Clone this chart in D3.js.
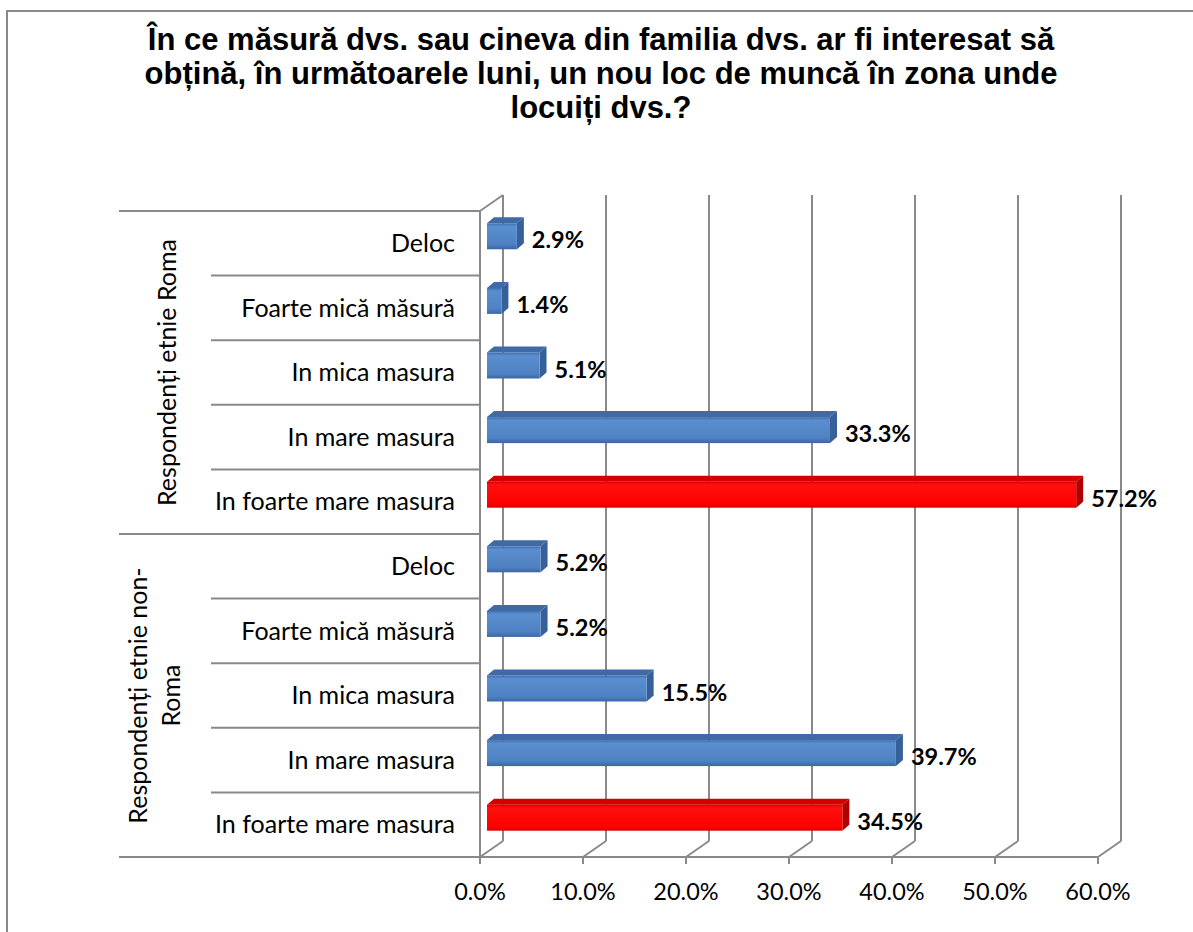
<!DOCTYPE html>
<html>
<head>
<meta charset="utf-8">
<script src="https://cdn.jsdelivr.net/npm/d3@7"></script>
<style>
  body { margin: 0; background: #fff; }
  svg { display: block; }
</style>
</head>
<body>
<div class="chartBoard"></div>
<script>
// chart data
const titleLines = [
    "În ce măsură dvs. sau cineva din familia dvs. ar fi interesat să",
    "obțină, în următoarele luni, un nou loc de muncă în zona unde",
    "locuiți dvs.?"
];
const groups = ["Respondenți etnie Roma", "Respondenți etnie non-Roma"];
const groupLabelLines = [["Respondenți etnie Roma"], ["Respondenți etnie non-", "Roma"]];
const answers = ["Deloc", "Foarte mică măsură", "In mica masura", "In mare masura", "In foarte mare masura"];
const romaValues = [2.9, 1.4, 5.1, 33.3, 57.2];
const nonRomaValues = [5.2, 5.2, 15.5, 39.7, 34.5];
const xTicks = [0, 10, 20, 30, 40, 50, 60];
const highlighted = "In foarte mare masura";

const W = 1193, H = 932;
const pLeft = 480, pRight = 1098, pTop = 211, pBottom = 857;
const depthX = 23, depthY = -16;     // back wall offset
const barDX = 7, barDY = -6;         // bar depth
const gridColor = "#898989";

// rows: one per group/answer pair
const rows = [];
groups.forEach((g, gi) => {
    const vals = gi === 0 ? romaValues : nonRomaValues;
    answers.forEach((a, ai) => rows.push({ group: g, gi: gi, answer: a, value: vals[ai], key: gi + "|" + a }));
});

const svg = d3.select(".chartBoard")
    .append("svg")
    .attr("width", W)
    .attr("height", H);

svg.append("rect").attr("width", W).attr("height", H).attr("fill", "#fff");
svg.append("rect")
    .attr("x", 7).attr("y", 11)
    .attr("width", W + 20).attr("height", H + 20)
    .attr("fill", "none")
    .attr("stroke", gridColor)
    .attr("stroke-width", 2);

// title
svg.append("text")
    .attr("text-anchor", "middle")
    .style("font-family", "'Liberation Sans', Arial, sans-serif")
    .style("font-weight", "bold")
    .style("font-size", "31px")
    .selectAll("tspan")
    .data(titleLines)
    .enter()
    .append("tspan")
    .attr("x", 601)
    .attr("y", (d, i) => 50 + i * 34)
    .text(d => d);

const xScale = d3.scaleLinear().domain([0, 60]).range([pLeft, pRight]);
const yScale = d3.scaleBand().domain(rows.map(r => r.key)).range([pTop, pBottom]);
const bandH = yScale.bandwidth();

// gradients
const defs = svg.append("defs");
function grad(id, stops) {
    const g = defs.append("linearGradient").attr("id", id)
        .attr("x1", 0).attr("y1", 0).attr("x2", 0).attr("y2", 1);
    stops.forEach(s => g.append("stop").attr("offset", s[0]).attr("stop-color", s[1]));
}
grad("blueFront", [[0, "#3e6cab"], [0.12, "#5a8ed0"], [0.8, "#4f82c2"], [1, "#3b67a3"]]);
grad("redFront", [[0, "#e00000"], [0.12, "#ff1010"], [0.85, "#ff0000"], [1, "#d80000"]]);

// back wall gridlines
const grid = svg.append("g").attr("stroke", gridColor).attr("stroke-width", 2).attr("fill", "none");
xTicks.forEach(t => {
    const x = xScale(t);
    grid.append("line")
        .attr("x1", x + depthX).attr("x2", x + depthX)
        .attr("y1", pTop + depthY).attr("y2", pBottom + depthY);
    grid.append("line")
        .attr("x1", x).attr("y1", pBottom)
        .attr("x2", x + depthX).attr("y2", pBottom + depthY);
    grid.append("line")
        .attr("x1", x).attr("x2", x)
        .attr("y1", pBottom).attr("y2", pBottom + 7);
});
// left wall
grid.append("line").attr("x1", pLeft).attr("x2", pLeft).attr("y1", pTop).attr("y2", pBottom);
grid.append("line").attr("x1", pLeft).attr("y1", pTop).attr("x2", pLeft + depthX).attr("y2", pTop + depthY);
// floor front edge
grid.append("line").attr("x1", pLeft).attr("x2", pRight).attr("y1", pBottom).attr("y2", pBottom);

// category boundary lines
const boundaries = d3.range(rows.length + 1).map(i => pTop + i * bandH);
boundaries.forEach((y, i) => {
    const groupEdge = i % answers.length === 0;
    grid.append("line")
        .attr("x1", groupEdge ? 119 : 211).attr("x2", pLeft)
        .attr("y1", y).attr("y2", y);
});

// bars
const bars = svg.append("g");
rows.forEach(r => {
    const isRed = r.answer === highlighted;
    const x0 = pLeft + barDX;
    const x1 = x0 + (xScale(r.value) - xScale(0));
    const cy = yScale(r.key) + bandH / 2;
    const y0 = cy - 20, y1 = cy + 6;
    // top face
    bars.append("polygon")
        .attr("points", [[x0, y0], [x0 + barDX, y0 + barDY], [x1 + barDX, y0 + barDY], [x1, y0]].join(" "))
        .attr("fill", isRed ? "#d40000" : "#3f6aa6");
    // right face
    bars.append("polygon")
        .attr("points", [[x1, y0], [x1 + barDX, y0 + barDY], [x1 + barDX, y1 + barDY], [x1, y1]].join(" "))
        .attr("fill", isRed ? "#b00000" : "#35609a");
    // front face
    bars.append("rect")
        .attr("x", x0).attr("y", y0)
        .attr("width", x1 - x0).attr("height", y1 - y0)
        .attr("fill", isRed ? "url(#redFront)" : "url(#blueFront)");
    // value label
    bars.append("text")
        .attr("x", x1 + barDX + 8)
        .attr("y", y1 - 1)
        .style("font-family", "Lato, sans-serif")
        .style("font-weight", "bold")
        .style("font-size", "23.5px")
        .text(r.value.toFixed(1) + "%");
});

// answer labels
svg.append("g")
    .style("font-family", "Lato, sans-serif")
    .style("font-size", "25px")
    .attr("text-anchor", "end")
    .selectAll("text")
    .data(rows)
    .enter()
    .append("text")
    .attr("x", 455)
    .attr("y", d => yScale(d.key) + bandH / 2)
    .attr("dy", "0.35em")
    .text(d => d.answer);

// group labels (rotated, baseline positions)
const groupBaselineX = [176, 147];
groupLabelLines.forEach((lines, gi) => {
    const cy = pTop + (gi * answers.length + answers.length / 2) * bandH;
    const t = svg.append("text")
        .attr("transform", `translate(${groupBaselineX[gi]},${cy}) rotate(-90)`)
        .attr("text-anchor", "middle")
        .style("font-family", "Lato, sans-serif")
        .style("font-size", "25px");
    lines.forEach((l, i) => {
        t.append("tspan")
            .attr("x", 0)
            .attr("y", i * 33)
            .text(l);
    });
});

// x tick labels
svg.append("g")
    .style("font-family", "Lato, sans-serif")
    .style("font-size", "23.5px")
    .attr("text-anchor", "middle")
    .selectAll("text")
    .data(xTicks)
    .enter()
    .append("text")
    .attr("x", d => xScale(d))
    .attr("y", 900)
    .text(d => d.toFixed(1) + "%");
</script>
</body>
</html>
